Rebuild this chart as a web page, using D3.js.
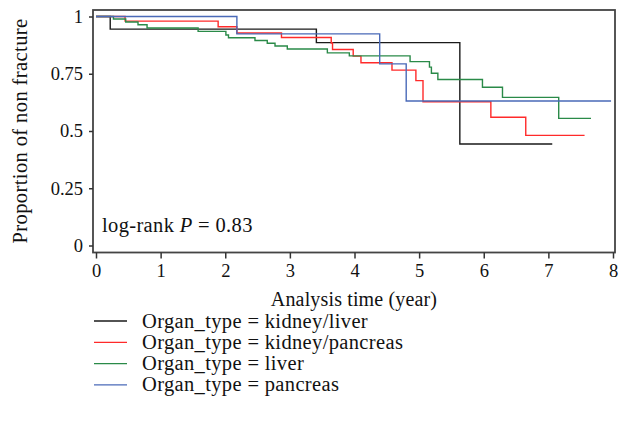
<!DOCTYPE html>
<html>
<head>
<meta charset="utf-8">
<script src="https://cdn.jsdelivr.net/npm/d3@7"></script>
<style>
  body { margin: 0; background: #fff; }
  text { font-family: "Liberation Serif", "DejaVu Serif", serif; fill: #111; }
</style>
</head>
<body>
<div class="graph"></div>
<script>
const width = 629,
      height = 441;

// step curves: time (years) and proportion without fracture
const kidneyLiverTime = [0, 0.22, 3.41, 5.63, 7.06];
const kidneyLiverSurv = [1, 0.945, 0.886, 0.443, 0.443];

const kidneyPancreasTime = [0, 0.45, 1.89, 2.18, 2.87, 3.64, 3.66, 3.98, 4.10, 4.58, 4.95, 5.06, 6.11, 6.65, 7.56];
const kidneyPancreasSurv = [1, 0.980, 0.955, 0.928, 0.908, 0.884, 0.856, 0.827, 0.798, 0.766, 0.720, 0.628, 0.560, 0.481, 0.481];

const liverTime = [0, 0.27, 0.46, 0.65, 0.79, 1.58, 2.01, 2.05, 2.46, 2.65, 2.77, 2.96, 3.58, 3.92, 4.86, 5.16, 5.19, 5.29, 5.98, 6.29, 7.16, 7.66];
const liverSurv = [1, 0.989, 0.976, 0.964, 0.950, 0.935, 0.919, 0.907, 0.895, 0.883, 0.871, 0.858, 0.841, 0.828, 0.803, 0.779, 0.752, 0.725, 0.691, 0.647, 0.555, 0.555];

const pancreasTime = [0, 2.18, 4.39, 4.80, 7.97];
const pancreasSurv = [1, 0.924, 0.793, 0.631, 0.631];

const legendLabels = ["Organ_type = kidney/liver", "Organ_type = kidney/pancreas", "Organ_type = liver", "Organ_type = pancreas"];
const colors = ["#1a1a1a", "#ff2a2a", "#2a8a48", "#4a6ab8"];
const xTicks = [0, 1, 2, 3, 4, 5, 6, 7, 8];
const yTicks = [0, 0.25, 0.5, 0.75, 1];

const series = [
  [kidneyLiverTime, kidneyLiverSurv],
  [kidneyPancreasTime, kidneyPancreasSurv],
  [liverTime, liverSurv],
  [pancreasTime, pancreasSurv]
];

const frame = {left: 93, right: 615, top: 10, bottom: 252.5};

const x = d3.scaleLinear().domain([0, 8]).range([96, 613]);
const y = d3.scaleLinear().domain([0, 1]).range([245.5, 16.5]);

const svg = d3.select(".graph")
  .append("svg")
  .attr("width", width)
  .attr("height", height);

// curves
const line = d3.line()
  .x(d => x(d[0]))
  .y(d => y(d[1]))
  .curve(d3.curveStepAfter);

series.forEach((s, i) => {
  const pts = s[0].map((t, j) => [t, s[1][j]]);
  svg.append("path")
    .datum(pts)
    .attr("fill", "none")
    .attr("stroke", colors[i])
    .attr("stroke-width", 1.4)
    .attr("d", line);
});

// frame
svg.append("rect")
  .attr("x", frame.left)
  .attr("y", frame.top)
  .attr("width", frame.right - frame.left)
  .attr("height", frame.bottom - frame.top)
  .attr("fill", "none")
  .attr("stroke", "#444")
  .attr("stroke-width", 1.8);

const xAxis = d3.axisBottom(x).tickValues(xTicks).tickSize(6).tickSizeOuter(0).tickPadding(5);
const gx = svg.append("g")
  .attr("transform", `translate(0, ${frame.bottom})`)
  .call(xAxis);
gx.select(".domain").remove();
gx.selectAll(".tick line").attr("stroke", "#333").attr("stroke-width", 1.5);
gx.selectAll(".tick text").style("font-size", "18.5px").attr("fill", "#111");

const yAxis = d3.axisLeft(y).tickValues(yTicks).tickFormat(d => d3.format("")(d)).tickSize(4).tickSizeOuter(0).tickPadding(6);
const gy = svg.append("g")
  .attr("transform", `translate(${frame.left}, 0)`)
  .call(yAxis);
gy.select(".domain").remove();
gy.selectAll(".tick line").attr("stroke", "#333").attr("stroke-width", 1.5);
gy.selectAll(".tick text").style("font-size", "18.5px").attr("fill", "#111");

// axis titles
svg.append("text")
  .attr("x", 354)
  .attr("y", 306)
  .attr("text-anchor", "middle")
  .style("font-size", "20px")
  .style("letter-spacing", "0.15px")
  .text("Analysis time (year)");

svg.append("text")
  .attr("transform", "translate(27, 131) rotate(-90)")
  .attr("text-anchor", "middle")
  .style("font-size", "20.5px")
  .style("letter-spacing", "0.4px")
  .text("Proportion of non fracture");

// log-rank annotation
const note = svg.append("text")
  .attr("x", 102)
  .attr("y", 232)
  .style("font-size", "20.5px")
  .style("letter-spacing", "0.35px");
note.append("tspan").text("log-rank ");
note.append("tspan").style("font-style", "italic").text("P");
note.append("tspan").text(" = 0.83");

// legend
const legend = svg.append("g");
legendLabels.forEach((lab, i) => {
  const ly = 321 + i * 21.3;
  legend.append("line")
    .attr("x1", 94).attr("x2", 127)
    .attr("y1", ly).attr("y2", ly)
    .attr("stroke", colors[i])
    .attr("stroke-width", 1.3);
  legend.append("text")
    .attr("x", 142)
    .attr("y", ly + 6.5)
    .style("font-size", "20.5px")
    .style("letter-spacing", "0.35px")
    .text(lab);
});
</script>
</body>
</html>
